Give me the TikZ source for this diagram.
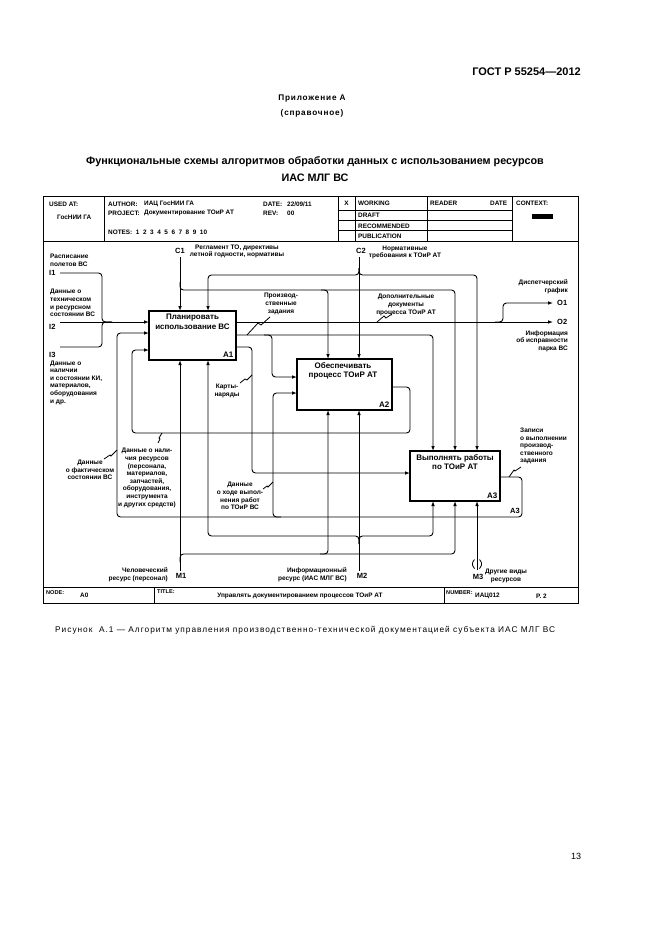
\documentclass[tikz,border=0pt]{standalone}
\usepackage{fontspec}
\setmainfont{Liberation Sans}
\usetikzlibrary{arrows.meta}
\newcommand\lblf{\bfseries\fontsize{6.5}{7.6}\selectfont}
\newcommand\hdrf{\bfseries\fontsize{6.4}{7.6}\selectfont}
\newcommand\ftrf{\bfseries\fontsize{5.6}{7}\selectfont}
\newcommand\boxf{\bfseries\fontsize{8}{9.3}\selectfont}
\newcommand\icomf{\bfseries\fontsize{7.5}{8.5}\selectfont}
\begin{document}
\begin{tikzpicture}[x=1pt,y=-1pt,
 ln/.style={line width=0.9pt, rounded corners=3.5pt},
 arr/.style={ln, -{Latex[length=5pt,width=3.6pt]}},
 sq/.style={line width=0.8pt},
 fbox/.style={draw, line width=1.8pt, inner sep=0pt, outer sep=0pt},
 lbl/.style={font=\lblf, inner sep=0pt, align=center},
 hdr/.style={font=\hdrf, inner sep=0pt, anchor=west},
 ftr/.style={font=\ftrf, inner sep=0pt, anchor=west},
 boxt/.style={font=\boxf, inner sep=0pt, align=center},
 icom/.style={font=\icomf, inner sep=0pt},
]
\fill[white] (0,0) rectangle (661,936);
\useasboundingbox (0,0) rectangle (661,936);

% ---- page texts
\node[font=\bfseries\fontsize{11}{13}\selectfont, anchor=east, inner sep=0pt] (gost) at (581,72) {ГОСТ Р 55254—2012};
\node[font={\bfseries\fontsize{8.2}{10}\selectfont\addfontfeature{LetterSpace=10}}, inner sep=0pt] (pril) at (312,99) {Приложение А};
\node[font={\bfseries\fontsize{8.2}{10}\selectfont\addfontfeature{LetterSpace=10}}, inner sep=0pt] (sprav) at (312,113) {(справочное)};
\node[font=\bfseries\fontsize{10.8}{13}\selectfont, inner sep=0pt] (ttl1) at (315,162) {Функциональные схемы алгоритмов обработки данных с использованием ресурсов};
\node[font=\bfseries\fontsize{10.8}{13}\selectfont, inner sep=0pt] (ttl2) at (315,178) {ИАС МЛГ ВС};
\node[font={\fontsize{8.3}{10}\selectfont\addfontfeature{LetterSpace=12}}, inner sep=0pt, anchor=west] (cap) at (55,630) {Рисунок~~А.1 — Алгоритм управления производственно-технической документацией субъекта ИАС МЛГ ВС};
\node[font=\fontsize{9}{10}\selectfont, inner sep=0pt] (pg) at (576,856) {13};

% ---- frame
\draw[line width=1pt] (43,196) rectangle (578,603);
\draw[line width=0.9pt] (43,241) -- (578,241);
\draw[line width=0.9pt] (43,587) -- (578,587);
\foreach \x in {104,338,355,427,512} \draw[line width=0.8pt] (\x,196) -- (\x,241);
\foreach \y in {210,220.5,230.5} \draw[line width=0.8pt] (338,\y) -- (512,\y);
\draw[line width=0.8pt] (154,587) -- (154,603);
\draw[line width=0.8pt] (444,587) -- (444,603);

% ---- header texts
\node[hdr] (usedat) at (49,204) {USED AT:};
\node[hdr] (usedv) at (57,217) {ГосНИИ ГА};
\node[hdr] (auth) at (108,204) {AUTHOR:};
\node[hdr] (authv) at (144,204) {ИАЦ ГосНИИ ГА};
\node[hdr] (proj) at (108,213) {PROJECT:};
\node[hdr] (projv) at (144,213) {Документирование ТОиР АТ};
\node[hdr] (notes) at (108,232) {NOTES:\ \ 1\ \ 2\ \ 3\ \ 4\ \ 5\ \ 6\ \ 7\ \ 8\ \ 9\ \ 10};
\node[hdr] (date) at (263,204) {DATE:};
\node[hdr] (datev) at (287,204) {22/09/11};
\node[hdr] (rev) at (263,213) {REV:};
\node[hdr] (revv) at (287,213) {00};
\node[font=\hdrf, inner sep=0pt] (xmark) at (346.5,203) {X};
\node[hdr] (work) at (358,203) {WORKING};
\node[hdr] (draft) at (358,215.5) {DRAFT};
\node[hdr] (recom) at (358,226) {RECOMMENDED};
\node[hdr] (publ) at (358,236) {PUBLICATION};
\node[hdr] (reader) at (430,203) {READER};
\node[hdr] (rdate) at (490,203) {DATE};
\node[hdr] (ctx) at (516,203) {CONTEXT:};
\fill (532,214) rectangle (553,219);

% ---- footer texts
\node[ftr] (node) at (46,593) {NODE:};
\node[hdr] (nodev) at (80,595) {A0};
\node[ftr] (title) at (157,592) {TITLE:};
\node[font=\hdrf, inner sep=0pt] (titlev) at (300,596) {Управлять документированием процессов ТОиР АТ};
\node[ftr] (numb) at (446,593) {NUMBER:};
\node[hdr] (numbv) at (475,596) {ИАЦ012};
\node[hdr] (page) at (536,596) {P. 2};

% ---- function boxes
\node[fbox, minimum width=87pt, minimum height=49pt] (A1) at (192.5,335.5) {};
\node[fbox, minimum width=95pt, minimum height=51pt] (A2) at (344.5,384.5) {};
\node[fbox, minimum width=90pt, minimum height=50pt] (A3) at (455,476) {};
\node[boxt, anchor=north] (A1t) at (192.5,314) {Планировать\\использование ВС};
\node[boxt, anchor=north] (A2t) at (343,362) {Обеспечивать\\процесс ТОиР АТ};
\node[boxt, anchor=north] (A3t) at (455,454) {Выполнять работы\\по ТОиР АТ};
\node[boxt, anchor=south east] (A1n) at (233.5,357.5) {A1};
\node[boxt, anchor=south east] (A2n) at (389.5,407.5) {A2};
\node[boxt, anchor=south east] (A3n) at (497.5,498.5) {A3};

% ---- ports
\coordinate (a1c1) at (180,311); \coordinate (a1c2) at (208,311);
\coordinate (a1i1) at (149,322); \coordinate (a1i2) at (149,333); \coordinate (a1i3) at (149,350);
\coordinate (a1o1) at (236,322); \coordinate (a1o2) at (236,335); \coordinate (a1o3) at (236,347);
\coordinate (a1m1) at (180,360); \coordinate (a1m2) at (208,360);
\coordinate (a2c1) at (328,359); \coordinate (a2c2) at (359,359);
\coordinate (a2i1) at (297,377); \coordinate (a2i2) at (297,393);
\coordinate (a2o1) at (392,387);
\coordinate (a2m1) at (328,410); \coordinate (a2m2) at (359,410);
\coordinate (a3c1) at (433,451); \coordinate (a3c2) at (455,451); \coordinate (a3c3) at (477,451);
\coordinate (a3i1) at (410,473);
\coordinate (a3o1) at (500,477);
\coordinate (a3m1) at (433,501); \coordinate (a3m2) at (455,501); \coordinate (a3m3) at (477,501);
\coordinate (c1) at (180,257); \coordinate (c2) at (359,257);
\coordinate (i1) at (60,273); \coordinate (i2) at (60,322); \coordinate (i3) at (60,347);
\coordinate (o1) at (553,303); \coordinate (o2) at (553,322);
\coordinate (m1) at (180,571); \coordinate (m2) at (359,571); \coordinate (m3) at (477,570);

% ---- controls
\draw[arr] (c1) -- (a1c1);
\draw[arr] (180,282) |- (455,290) -- (a3c2);
\draw[arr] (321,290) -| (a2c1);
\draw[arr] (c2) -- (a2c2);
\draw[arr] (359,268) |- (208,275) -- (a1c2);
\draw[arr] (359,268) |- (477,275) -- (a3c3);

% ---- inputs
\draw[ln] (i1) -| (102,322) -- (112,322);
\draw[arr] (i2) -- (a1i1);
\draw[ln] (i3) -| (102,322) -- (112,322);

% ---- A1 outputs
\draw[arr] (a1o1) -- (o2);
\draw[arr] (495,322) -| (503,303) -- (o1);
\draw[arr] (a1o2) -| (a3c1);
\draw[arr] (264,335) -| (272,377) -- (a2i1);
\draw[arr] (a1o3) -| (252,473) -- (a3i1);

% ---- feedback
\draw[arr] (a2o1) -| (410,433) -| (132,350) -- (a1i3);
\draw[arr] (a3o1) -| (522,517) -| (117,333) -- (a1i2);
\draw[arr] (281,517) -| (273,393) -- (a2i2);

% ---- mechanisms
\draw[arr] (m1) -- (a1m1);
\draw[arr] (180,562) |- (455,554) -- (a3m2);
\draw[arr] (320,554) -| (a2m1);
\draw[arr] (m2) -- (a2m2);
\draw[arr] (359,544) |- (208,536) -- (a1m2);
\draw[arr] (359,544) |- (433,536) -- (a3m1);
\draw[arr] (m3) -- (a3m3);
\draw[line width=0.8pt] (474.5,559.5) arc[start angle=130, end angle=230, radius=6pt];
\draw[line width=0.8pt] (479.5,559.5) arc[start angle=50, end angle=-50, radius=6pt];

% ---- ICOM codes
\node[icom] (tc1) at (180,251) {C1};
\node[icom] (tc2) at (361,251) {C2};
\node[icom, anchor=west] (ti1) at (49,273) {I1};
\node[icom, anchor=west] (ti2) at (49,327) {I2};
\node[icom, anchor=west] (ti3) at (49,355) {I3};
\node[icom, anchor=west] (to1) at (557,303) {O1};
\node[icom, anchor=west] (to2) at (557,322) {O2};
\node[icom] (tm1) at (181,576) {M1};
\node[icom] (tm2) at (362,576) {M2};
\node[icom] (tm3) at (478,577) {M3};
\node[icom] (ta3) at (515,511) {A3};

% ---- arrow labels
\node[lbl] (lc1) at (237,251.5) {Регламент ТО, директивы\\летной годности, нормативы};
\node[lbl] (lc2) at (405,252.5) {Нормативные\\требования к ТОиР АТ};
\node[lbl, anchor=west, align=left] (li1) at (50,260) {Расписание\\полетов ВС};
\node[lbl, anchor=west, align=left] (li2) at (50,303) {Данные о\\техническом\\и ресурсном\\состоянии ВС};
\node[lbl, anchor=west, align=left] (li3) at (50,382.5) {Данные о\\наличии\\и состоянии КИ,\\материалов,\\оборудования\\и др.};
\node[lbl, align=right, anchor=east] (lo1) at (568,286.5) {Диспетчерский\\график};
\node[lbl, align=right, anchor=east] (lo2) at (568,341) {Информация\\об исправности\\парка ВС};
\node[lbl] (lpz) at (281,304) {Производ-\\ственные\\задания};
\node[lbl] (ldd) at (406,305) {Дополнительные\\документы\\процесса ТОиР АТ};
\node[lbl] (lkn) at (227,391) {Карты-\\наряды};
\node[lbl] (lnr) at (147,478) {Данные о нали-\\чия ресурсов\\(персонала,\\материалов,\\запчастей,\\оборудования,\\инструмента\\и других средств)};
\node[lbl] (lfs) at (90,470) {Данные\\о фактическом\\состоянии ВС};
\node[lbl] (lhv) at (240,496) {Данные\\о ходе выпол-\\нения работ\\по ТОиР ВС};
\node[lbl, anchor=west, align=left] (lzp) at (520,446) {Записи\\о выполнении\\производ-\\ственного\\задания};
\node[lbl, align=right, anchor=east] (lm1) at (168,575) {Человеческий\\ресурс (персонал)};
\node[lbl, align=right, anchor=east] (lm2) at (347,575) {Информационный\\ресурс (ИАС МЛГ ВС)};
\node[lbl] (lm3) at (506,576) {Другие виды\\ресурсов};

% ---- squiggles
\draw[sq] (270,317) -- (261,325) -- (258,323) -- (247,335);
\draw[sq] (392,314) -- (386,318) -- (384,316) -- (377,322);
\draw[sq] (240,383) -- (245,379) -- (247,380) -- (252,375);
\draw[sq] (158,443) -- (160,439) -- (159,438) -- (162,433);
\draw[sq] (104,459) -- (110,455) -- (111,456) -- (117,450);
\draw[sq] (263,489) -- (267,486) -- (268,487) -- (273,482);
\draw[sq] (521,467) -- (515,471) -- (514,470) -- (509,477);
\end{tikzpicture}
\end{document}
